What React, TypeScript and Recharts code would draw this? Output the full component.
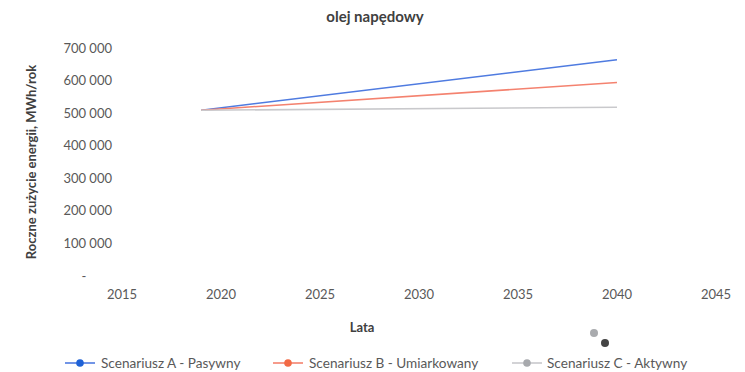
import React from "react";
import { LineChart, Line, XAxis, YAxis } from "recharts";

const years = [2019, 2040];
const scenarioA = [509000, 664000];
const scenarioB = [509000, 594000];
const scenarioC = [509000, 518000];

const xTicks = [2015, 2020, 2025, 2030, 2035, 2040, 2045];
const yTicks = [0, 100000, 200000, 300000, 400000, 500000, 600000, 700000];

const seriesNames = ["Scenariusz A - Pasywny", "Scenariusz B - Umiarkowany", "Scenariusz C - Aktywny"];
const lineColors = ["#4f7be0", "#f4826f", "#c9c9cc"];
const legendDotColors = ["#1f62d6", "#f26a45", "#a7a9ad"];

const data = years.map((year, i) => ({
  year,
  a: scenarioA[i],
  b: scenarioB[i],
  c: scenarioC[i],
}));

const FONT = "Lato, 'Open Sans', sans-serif";
const TEXT = "#595959";

const fmt = (v: number) => String(Math.round(v)).replace(/\B(?=(\d{3})+(?!\d))/g, " ");

// eslint-disable-next-line @typescript-eslint/no-explicit-any
const YTick = (props: any) => {
  const { x, y, payload } = props;
  const zero = payload.value === 0;
  return (
    <text
      x={zero ? x - 28 : x}
      y={y}
      dy="0.35em"
      textAnchor={zero ? "middle" : "end"}
      fill={TEXT}
      fontSize={13}
      fontFamily={FONT}
    >
      {zero ? "-" : fmt(payload.value)}
    </text>
  );
};

export default function App() {
  const legendPos = [
    { line: 65, text: 101 },
    { line: 273, text: 309 },
    { line: 512, text: 547 },
  ];
  return (
    <div style={{ position: "absolute", left: 0, top: 0, width: 745, height: 372, background: "#fff", fontFamily: FONT }}>
      <div style={{ position: "absolute", top: 7, left: 0, width: 750, textAlign: "center", fontWeight: 700, fontSize: 15, color: "#404040" }}>
        olej napędowy
      </div>
      <LineChart width={745} height={372} data={data} margin={{ top: 48, right: 29, bottom: 66, left: 0 }}>
        <XAxis
          dataKey="year"
          type="number"
          domain={[2015, 2045]}
          ticks={xTicks}
          axisLine={false}
          tickLine={false}
          tickMargin={8}
          height={30}
          tick={{ fill: TEXT, fontSize: 13, fontFamily: FONT }}
        />
        <YAxis
          domain={[0, 700000]}
          ticks={yTicks}
          axisLine={false}
          tickLine={false}
          width={122}
          tickMargin={4}
          tick={<YTick />}
        />
        <Line type="linear" dataKey="a" stroke={lineColors[0]} strokeWidth={1.6} dot={false} isAnimationActive={false} />
        <Line type="linear" dataKey="b" stroke={lineColors[1]} strokeWidth={1.6} dot={false} isAnimationActive={false} />
        <Line type="linear" dataKey="c" stroke={lineColors[2]} strokeWidth={1.6} dot={false} isAnimationActive={false} />
      </LineChart>
      <div
        style={{
          position: "absolute",
          left: 31,
          top: 162,
          transform: "translate(-50%, -50%) rotate(-90deg)",
          whiteSpace: "nowrap",
          fontWeight: 700,
          fontSize: 13,
          color: "#404040",
        }}
      >
        Roczne zużycie energii, MWh/rok
      </div>
      <div style={{ position: "absolute", left: 362, top: 327, transform: "translate(-50%, -50%)", fontWeight: 700, fontSize: 13, color: "#404040" }}>
        Lata
      </div>
      {seriesNames.map((name, i) => (
        <React.Fragment key={name}>
          <svg style={{ position: "absolute", left: legendPos[i].line, top: 357 }} width={30} height={12}>
            <line x1={0} y1={6} x2={30} y2={6} stroke={lineColors[i]} strokeWidth={1.6} />
            <circle cx={15} cy={6} r={3.8} fill={legendDotColors[i]} />
          </svg>
          <div style={{ position: "absolute", left: legendPos[i].text, top: 363, transform: "translateY(-50%)", fontSize: 13.6, color: TEXT, whiteSpace: "nowrap" }}>
            {name}
          </div>
        </React.Fragment>
      ))}
      <svg style={{ position: "absolute", left: 588, top: 327 }} width={24} height={24}>
        <circle cx={6} cy={6} r={4} fill="#a9abae" />
        <circle cx={17} cy={16} r={4} fill="#444" />
      </svg>
    </div>
  );
}
